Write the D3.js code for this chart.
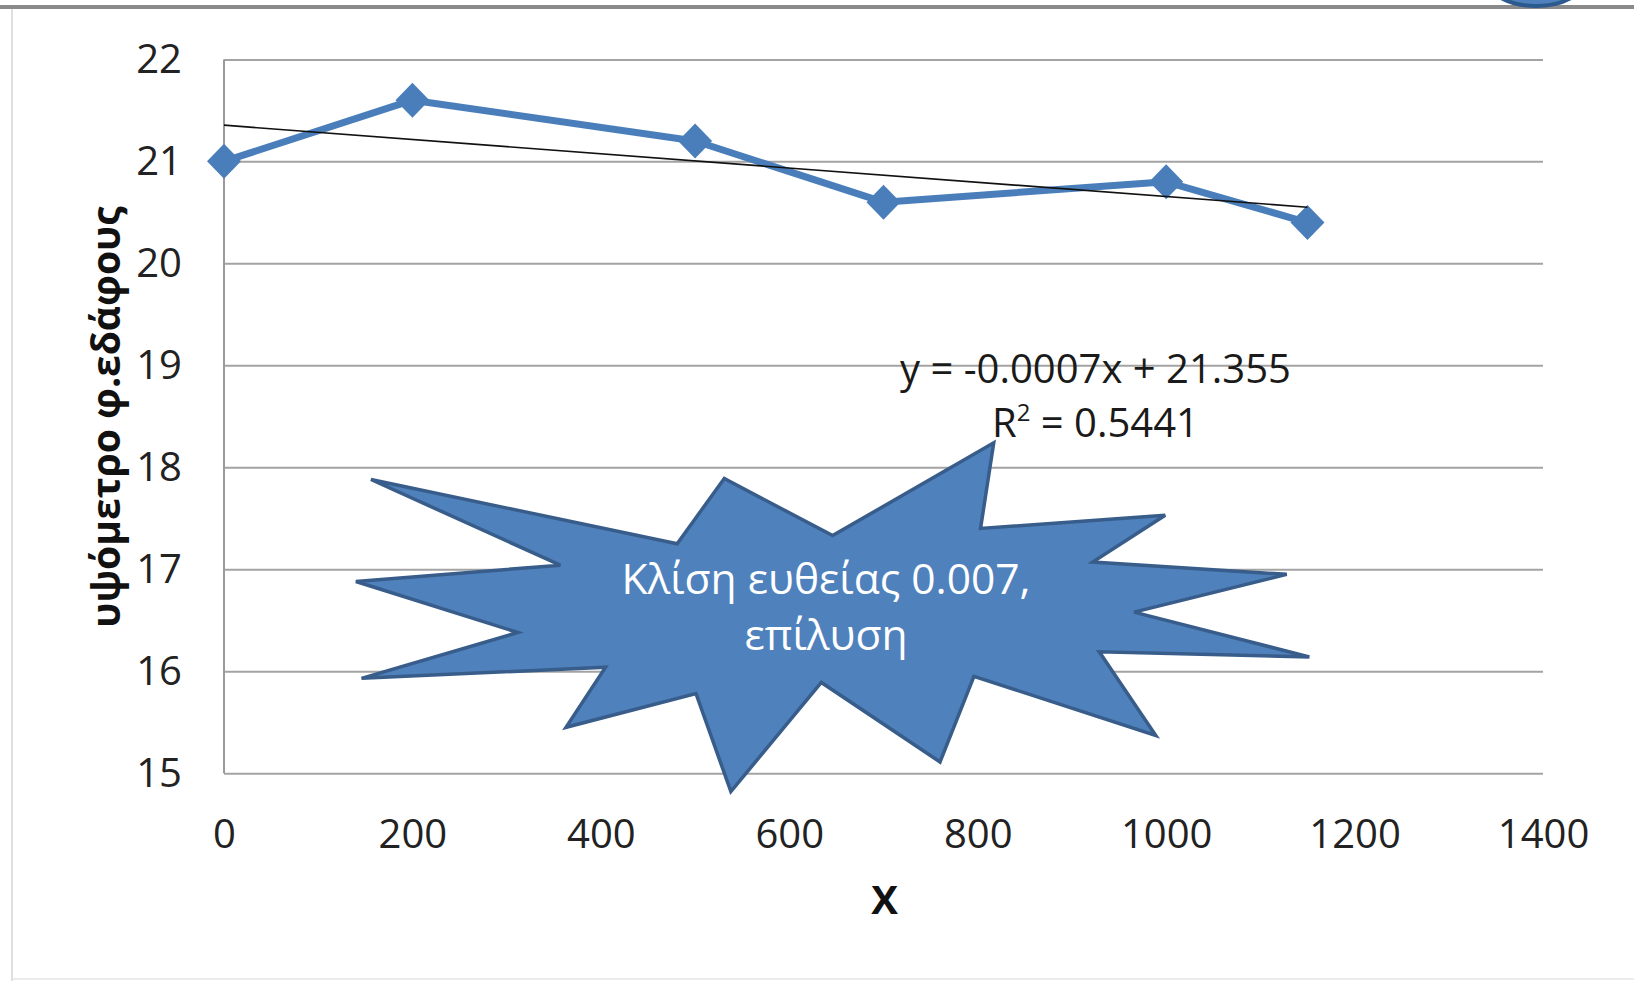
<!DOCTYPE html>
<html>
<head>
<meta charset="utf-8">
<script src="https://cdn.jsdelivr.net/npm/d3@7"></script>
<style>
  html, body { margin: 0; padding: 0; background: #ffffff; }
  svg { display: block; }
  text { font-family: "Open Sans", "DejaVu Sans", sans-serif; }
</style>
</head>
<body>
<svg id="chart" width="1634" height="981"></svg>
<script>
// Survey points: distance along the profile and ground elevation
const distances = [0, 200, 500, 700, 1000, 1150];
const elevations = [21, 21.6, 21.2, 20.6, 20.8, 20.4];

// Axis ticks
const xTicks = [0, 200, 400, 600, 800, 1000, 1200, 1400];
const yTicks = [15, 16, 17, 18, 19, 20, 21, 22];

// Linear trend (least squares) as printed on the chart
const trendSlope = -0.0007;
const trendIntercept = 21.355;
const trendLabel = "y = -0.0007x + 21.355";
const r2Label = "0.5441";

// Callout star outline in data units (distance, elevation)
const starX = [156, 481, 531, 646, 817, 803, 999, 922, 1128, 966, 1152, 929, 989, 796, 760, 634, 538, 501, 363, 405, 146, 312, 140, 357];
const starY = [17.88, 17.25, 17.89, 17.33, 18.24, 17.40, 17.53, 17.07, 16.95, 16.58, 16.14, 16.19, 15.37, 15.95, 15.11, 15.89, 14.82, 15.78, 15.45, 16.04, 15.93, 16.38, 16.88, 17.04];
const calloutLines = ["Κλίση ευθείας 0.007,", "επίλυση"];

const svg = d3.select("#chart");
const W = 1634, H = 981;

svg.append("rect").attr("width", W).attr("height", H).attr("fill", "#ffffff");

// Frame of the slide region
svg.append("line").attr("x1", 0).attr("x2", W).attr("y1", 7).attr("y2", 7)
  .attr("stroke", "#8a8a8a").attr("stroke-width", 4);
svg.append("line").attr("x1", 12).attr("x2", 12).attr("y1", 9).attr("y2", H)
  .attr("stroke", "#d4d4d4").attr("stroke-width", 1.5);
svg.append("line").attr("x1", 12).attr("x2", W).attr("y1", 979).attr("y2", 979)
  .attr("stroke", "#e4e4e4").attr("stroke-width", 1.5);

// Partially visible round badge at the top right
svg.append("ellipse").attr("cx", 1536).attr("cy", -22).attr("rx", 50).attr("ry", 28)
  .attr("fill", "#4f81bd").attr("stroke", "#2c5a8f").attr("stroke-width", 4);

const x = d3.scaleLinear().domain([0, 1400]).range([224, 1543]);
const y = d3.scaleLinear().domain([15, 22]).range([773.2, 59.4]);

// Horizontal gridlines
svg.append("g")
  .attr("transform", `translate(${x(0)},0)`)
  .call(d3.axisLeft(y).tickValues(yTicks).tickSize(-(x(1400) - x(0))).tickFormat(""))
  .call(g => g.select(".domain").remove())
  .call(g => g.selectAll(".tick line").attr("stroke", "#a3a3a3").attr("stroke-width", 2));

// Vertical axis line
svg.append("line").attr("x1", x(0)).attr("x2", x(0)).attr("y1", y(22)).attr("y2", y(15))
  .attr("stroke", "#9a9a9a").attr("stroke-width", 2);

// Y tick labels
svg.append("g")
  .attr("transform", `translate(${x(0)},0)`)
  .call(d3.axisLeft(y).tickValues(yTicks).tickSize(0).tickPadding(42).tickFormat(d3.format("d")))
  .call(g => g.select(".domain").remove())
  .call(g => g.selectAll("text").attr("font-size", 40).attr("fill", "#222")
    .attr("font-family", "'Open Sans', sans-serif"));

// X tick labels
svg.append("g")
  .attr("transform", `translate(0,${y(15)})`)
  .call(d3.axisBottom(x).tickValues(xTicks).tickSize(0).tickPadding(46).tickFormat(d3.format("d")))
  .call(g => g.select(".domain").remove())
  .call(g => g.selectAll("text").attr("font-size", 40).attr("fill", "#222")
    .attr("font-family", "'Open Sans', sans-serif"));

// Axis titles
svg.append("text")
  .attr("x", (x(0) + x(1400)) / 2 + 1).attr("y", 898)
  .attr("text-anchor", "middle").attr("dominant-baseline", "central")
  .attr("font-size", 40).attr("font-weight", "bold").attr("fill", "#111")
  .text("X");

svg.append("text")
  .attr("transform", "translate(104,417) rotate(-90)")
  .attr("text-anchor", "middle").attr("dominant-baseline", "central")
  .attr("font-size", 39).attr("font-weight", "bold").attr("fill", "#111")
  .text("υψόμετρο φ.εδάφους");

// Data series
const pts = distances.map((d, i) => [d, elevations[i]]);
svg.append("path")
  .datum(pts)
  .attr("fill", "none").attr("stroke", "#4a7ebb").attr("stroke-width", 7)
  .attr("stroke-linejoin", "round")
  .attr("d", d3.line().x(d => x(d[0])).y(d => y(d[1])));

// Diamond markers (square turned 45 degrees)
const mw = 17, mh = 17.5;
const diamondPath = d3.line()([[0, -mh], [mw, 0], [0, mh], [-mw, 0]]) + "Z";
svg.append("g").selectAll("path")
  .data(pts).join("path")
  .attr("transform", d => `translate(${x(d[0])},${y(d[1])})`)
  .attr("d", diamondPath)
  .attr("fill", "#4a7ebb");

// Trend line across the data range
const xExt = d3.extent(distances);
svg.append("line")
  .attr("x1", x(xExt[0])).attr("y1", y(trendIntercept + trendSlope * xExt[0]))
  .attr("x2", x(xExt[1])).attr("y2", y(trendIntercept + trendSlope * xExt[1]))
  .attr("stroke", "#111").attr("stroke-width", 1.6);

// Trend equation
const eq = svg.append("text")
  .attr("x", x(925)).attr("y", y(18.83))
  .attr("text-anchor", "middle").attr("font-size", 40).attr("fill", "#1a1a1a");
eq.text(trendLabel);

const r2 = svg.append("text")
  .attr("x", x(925)).attr("y", y(18.30))
  .attr("text-anchor", "middle").attr("font-size", 40).attr("fill", "#1a1a1a");
r2.append("tspan").text("R");
r2.append("tspan").attr("font-size", 24).attr("dy", -16).text("2");
r2.append("tspan").attr("dy", 16).text(" = " + r2Label);

// Callout star
const starPts = starX.map((d, i) => [x(d), y(starY[i])]);
svg.append("path")
  .attr("d", d3.line()(starPts) + "Z")
  .attr("fill", "#4f81bd").attr("stroke", "#385d8a").attr("stroke-width", 3.5)
  .attr("stroke-linejoin", "miter");

const callout = svg.append("text")
  .attr("text-anchor", "middle").attr("font-size", 42.5).attr("fill", "#ffffff");
calloutLines.forEach((t, i) => {
  callout.append("tspan")
    .attr("x", x(639)).attr("y", y(16.9) + 15 + i * 56)
    .text(t);
});
</script>
</body>
</html>
